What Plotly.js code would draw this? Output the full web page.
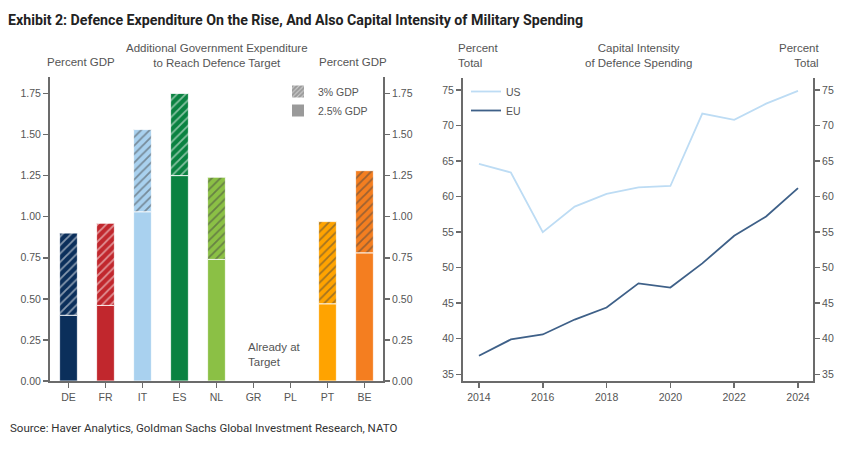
<!DOCTYPE html>
<html>
<head>
<meta charset="utf-8">
<script src="https://cdn.plot.ly/plotly-3.0.1.min.js"></script>
<style>
html,body{margin:0;padding:0;background:#fff;}
#chart{width:848px;height:449px;}
</style>
</head>
<body>
<div id="chart"></div>
<script>
// ---- Data ----
const countries = ["DE","FR","IT","ES","NL","GR","PL","PT","BE"];
const target25 = [0.40,0.46,1.03,1.25,0.74,0,0,0.47,0.78];   // 2.5% GDP
const target30 = [0.90,0.96,1.53,1.75,1.24,0,0,0.97,1.28];   // 3% GDP
const barColors = ["#0b2f5b","#c1272d","#a9d1ef","#0a8241","#8bc045","#999999","#999999","#ffa300","#f47e20"];

const years = [2014,2015,2016,2017,2018,2019,2020,2021,2022,2023,2024];
const usCapital = [64.6,63.4,55.0,58.6,60.4,61.3,61.5,71.7,70.8,73.1,74.9];
const euCapital = [37.6,39.9,40.6,42.7,44.4,47.8,47.2,50.6,54.5,57.2,61.2];

// ---- helpers ----
const W = 848, H = 449;
const px = x => x / W;
const py = y => 1 - y / H;

const tickFont = {family:"Liberation Sans, Arial, sans-serif", size:10.5, color:"#555"};
const txtFont = {family:"Liberation Sans, Arial, sans-serif", size:11.5, color:"#555"};
const axisColor = "#6b6b6b";

const inc30 = target30.map((v,i)=> +(v - target25[i]).toFixed(3));

const traces = [
  {
    type:"bar", x:countries, y:target25, xaxis:"x", yaxis:"y",
    marker:{color:barColors, line:{color:"#fff", width:0.8}},
    width:0.48, showlegend:false, hoverinfo:"x+y"
  },
  {
    type:"bar", x:countries, y:inc30, base:target25, xaxis:"x", yaxis:"y",
    marker:{color:barColors, line:{color:"#fff", width:0.8},
      pattern:{shape:"/", fillmode:"overlay", fgcolor:"#ffffff", size:6, solidity:0.3}},
    width:0.48, showlegend:false, hoverinfo:"x+y"
  },
  // legend-only bars
  {
    type:"bar", x:[null], y:[null], xaxis:"x", yaxis:"y", name:"3% GDP", legend:"legend",
    marker:{color:"#9a9a9a", pattern:{shape:"/", fillmode:"overlay", fgcolor:"#ffffff", size:4, solidity:0.35}}
  },
  {
    type:"bar", x:[null], y:[null], xaxis:"x", yaxis:"y", name:"2.5% GDP", legend:"legend",
    marker:{color:"#9a9a9a"}
  },
  // right axis mirror for left chart
  {
    type:"scatter", x:[countries[0]], y:[null], xaxis:"x", yaxis:"y2", showlegend:false, hoverinfo:"skip"
  },
  {
    type:"scatter", mode:"lines", x:years, y:usCapital, xaxis:"x2", yaxis:"y3", name:"US", legend:"legend2",
    line:{color:"#bddcf4", width:1.8}
  },
  {
    type:"scatter", mode:"lines", x:years, y:euCapital, xaxis:"x2", yaxis:"y3", name:"EU", legend:"legend2",
    line:{color:"#3e6088", width:1.8}
  },
  {
    type:"scatter", x:[2014], y:[null], xaxis:"x2", yaxis:"y4", showlegend:false, hoverinfo:"skip"
  }
];

const leftDomainX = [px(50), px(383)];
const rightDomainX = [px(463), px(813)];
const domY = [py(381), py(77)];
const domY2 = [py(381), py(78)];

const commonY = {
  showline:true, linecolor:axisColor, linewidth:2, ticks:"outside", ticklen:5, tickwidth:1.5,
  tickcolor:axisColor, showgrid:false, zeroline:false, tickfont:tickFont, fixedrange:true
};

const layout = {
  width:W, height:H,
  margin:{l:0,r:0,t:0,b:0},
  paper_bgcolor:"#fff", plot_bgcolor:"rgba(0,0,0,0)",
  barmode:"overlay",
  title:{
    text:"Exhibit 2: Defence Expenditure On the Rise, And Also Capital Intensity of Military Spending",
    x:px(8), xanchor:"left", xref:"paper", y:py(20), yanchor:"middle", yref:"paper",
    font:{family:"Roboto, Liberation Sans, sans-serif", size:14.2, color:"#222", weight:"bold"}
  },
  xaxis:{
    domain:leftDomainX, anchor:"y", type:"category", range:[-0.5,8.5],
    showline:true, linecolor:axisColor, linewidth:2, ticks:"outside", ticklen:5, tickwidth:1.5,
    tickcolor:axisColor, showgrid:false, tickfont:tickFont, fixedrange:true
  },
  yaxis:Object.assign({}, commonY, {domain:domY, anchor:"x", range:[0,1.85],
    tickvals:[0,0.25,0.5,0.75,1,1.25,1.5,1.75], ticktext:["0.00","0.25","0.50","0.75","1.00","1.25","1.50","1.75"]}),
  yaxis2:Object.assign({}, commonY, {domain:domY, anchor:"x", overlaying:"y", side:"right", range:[0,1.85],
    tickvals:[0,0.25,0.5,0.75,1,1.25,1.5,1.75], ticktext:["0.00","0.25","0.50","0.75","1.00","1.25","1.50","1.75"]}),
  xaxis2:{
    domain:rightDomainX, anchor:"y3", range:[2013.5,2024.47],
    tickvals:[2014,2016,2018,2020,2022,2024],
    showline:true, linecolor:axisColor, linewidth:2, ticks:"outside", ticklen:5, tickwidth:1.5,
    tickcolor:axisColor, showgrid:false, zeroline:false, tickfont:tickFont, fixedrange:true
  },
  yaxis3:Object.assign({}, commonY, {domain:domY2, anchor:"x2", range:[34.05,76.7], tickvals:[35,40,45,50,55,60,65,70,75]}),
  yaxis4:Object.assign({}, commonY, {domain:domY2, anchor:"x2", overlaying:"y3", side:"right", range:[34.05,76.7], tickvals:[35,40,45,50,55,60,65,70,75]}),
  legend:{
    x:px(278), xanchor:"left", y:py(77), yanchor:"top", bgcolor:"rgba(0,0,0,0)",
    font:{family:"Liberation Sans, Arial, sans-serif", size:10.5, color:"#555"},
    traceorder:"normal", itemwidth:30, tracegroupgap:0
  },
  legend2:{
    x:px(466), xanchor:"left", y:py(77), yanchor:"top", bgcolor:"rgba(0,0,0,0)",
    font:{family:"Liberation Sans, Arial, sans-serif", size:10.5, color:"#555"},
    traceorder:"normal", itemwidth:30
  },
  annotations:[
    {text:"Percent GDP", x:px(81), y:py(62), xref:"paper", yref:"paper", xanchor:"center", yanchor:"middle", showarrow:false, font:txtFont},
    {text:"Additional Government Expenditure<br>to Reach Defence Target", x:px(217), y:py(55), xref:"paper", yref:"paper", xanchor:"center", yanchor:"middle", showarrow:false, font:txtFont},
    {text:"Percent GDP", x:px(353), y:py(62), xref:"paper", yref:"paper", xanchor:"center", yanchor:"middle", showarrow:false, font:txtFont},
    {text:"Already at<br>Target", x:px(246), y:py(354), xref:"paper", yref:"paper", xanchor:"left", yanchor:"middle", align:"left", showarrow:false, font:txtFont},
    {text:"Percent<br>Total", x:px(456), y:py(55), xref:"paper", yref:"paper", xanchor:"left", yanchor:"middle", align:"left", showarrow:false, font:txtFont},
    {text:"Capital Intensity<br>of Defence Spending", x:px(638), y:py(55), xref:"paper", yref:"paper", xanchor:"center", yanchor:"middle", showarrow:false, font:txtFont},
    {text:"Percent<br>Total", x:px(821), y:py(55), xref:"paper", yref:"paper", xanchor:"right", yanchor:"middle", align:"right", showarrow:false, font:txtFont},
    {text:"Source: Haver Analytics, Goldman Sachs Global Investment Research, NATO", x:px(8), y:py(428), xref:"paper", yref:"paper", xanchor:"left", yanchor:"middle", showarrow:false,
      font:{family:"Roboto, Liberation Sans, sans-serif", size:11.5, color:"#333"}}
  ]
};

Plotly.newPlot("chart", traces, layout, {displayModeBar:false, staticPlot:true});
</script>
</body>
</html>
